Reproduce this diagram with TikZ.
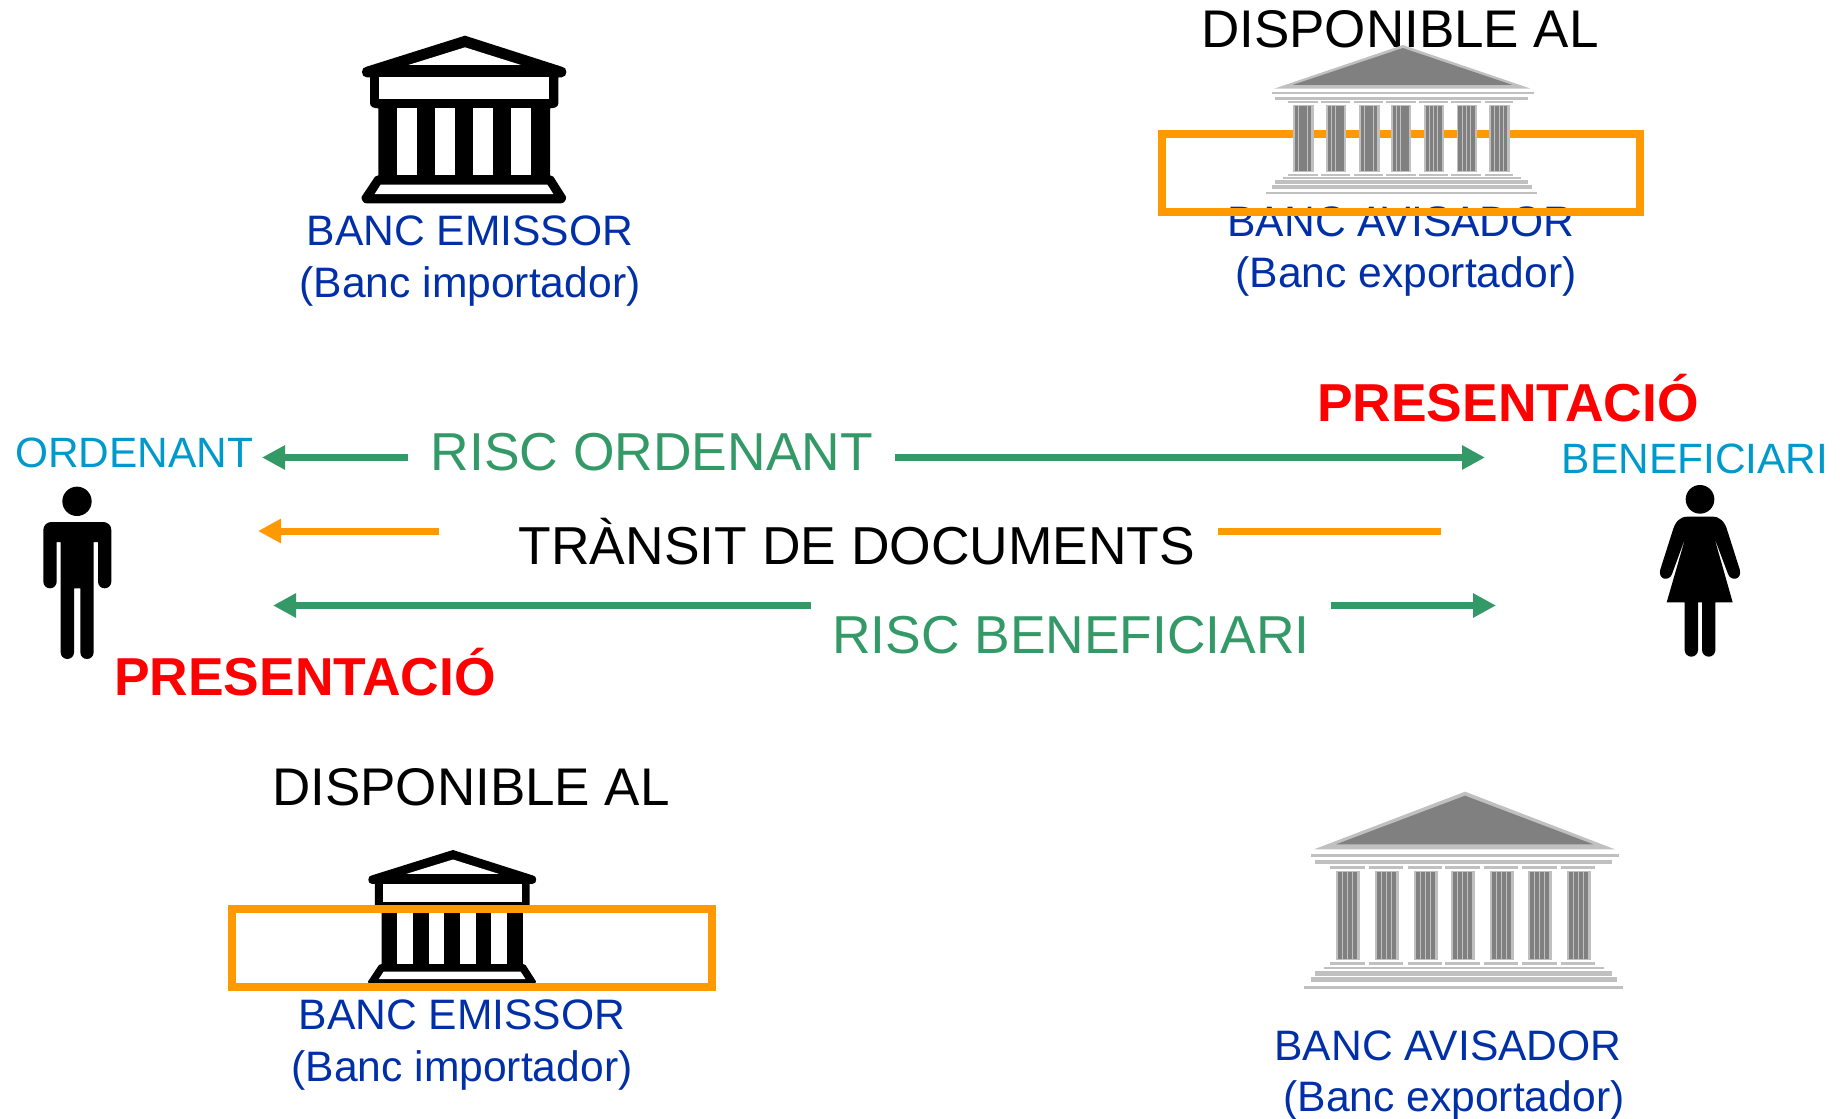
\documentclass[tikz,border=0pt]{standalone}
\usepackage{fontspec}
\setmainfont{Liberation Sans}
\usetikzlibrary{arrows.meta}
\definecolor{rgreen}{HTML}{339966}
\definecolor{rorange}{HTML}{FF9900}
\definecolor{rblue}{HTML}{002FA7}
\definecolor{rcyan}{HTML}{0099CC}
\definecolor{glight}{HTML}{C0C0C0}
\definecolor{gdark}{HTML}{808080}
\tikzset{
  txt/.style={inner sep=0pt,outer sep=0pt,anchor=base},
  banklabel/.style={txt,text=rblue,font=\fontsize{21.3}{24}\selectfont},
  partylabel/.style={txt,text=rcyan,font=\fontsize{21.2}{24}\selectfont},
  bigblack/.style={txt,text=black,font=\fontsize{26.7}{30}\selectfont},
  dispo/.style={txt,text=black,font=\fontsize{26.5}{30}\selectfont},
  biggreen/.style={txt,text=rgreen,font=\fontsize{26.7}{30}\selectfont},
  present/.style={txt,text=red,font=\bfseries\fontsize{26.7}{30}\selectfont},
  frameb/.style={draw=rorange,line width=4pt,miter limit=10},
  garrow/.style={draw=rgreen,line width=3.5pt},
  oarrow/.style={draw=rorange,line width=3.5pt},
  gtip/.style={-{Triangle[length=11.5pt,width=11.5pt]}},
}
\newcommand{\blackbank}{%
  \fill[black] (80,140) -- (375,47) -- (665,140) to[out=0,in=0,looseness=1.5] (665,172) -- (655,172) -- (655,250) to[out=-90,in=0] (630,265) -- (630,466) -- (640,470) -- (678,530) to[out=-80,in=0] (662,550) -- (80,550) to[out=180,in=-100] (65,530) -- (105,470) -- (115,466) -- (115,265) to[out=180,in=-90] (90,250) -- (90,172) -- (80,172) to[out=180,in=180,looseness=1.5] cycle;
  \fill[white] (205,135) -- (375,82) -- (543,135) -- cycle;
  \fill[white] (118,172) rectangle (626,237);
  \foreach \a in {172,286,400,514} {\fill[white] (\a,265) rectangle +(58,201);}
  \fill[white] (122,494) -- (622,494) -- (640,522) -- (104,522) -- cycle;
}
\newcommand{\greybank}{%
  \fill[glight] (72,208) -- (525,35) -- (975,208) -- cycle;
  \fill[gdark] (138,193) -- (525,47) -- (910,193) -- cycle;
  \fill[glight] (63,222) rectangle (987,231);
  \fill[glight] (75,240) rectangle (966,252);
  \foreach \a/\b in {120/225,237/339,354/456,465/570,582/684,696/801,813/915} {
    \fill[glight] (\a,258) rectangle (\b,267);
    \fill[glight] (\a,546) rectangle (\b,555);
  }
  \foreach \c in {174,290,407,519,635,751,866} {
    \fill[glight] (\c-36,272) rectangle (\c+36,541);
    \foreach \d in {-30,-15,0,15} {\fill[gdark] (\c+\d,276) rectangle +(12,260);}
  }
  \fill[glight] (102,561) rectangle (942,568);
  \fill[glight] (75,573) rectangle (966,588);
  \fill[glight] (63,591) rectangle (981,606);
  \fill[glight] (42,618) rectangle (998,627);
}
\begin{document}
\begin{tikzpicture}[x=.5pt,y=-.5pt]
\useasboundingbox (0,0) rectangle (1840,1118);
% labels under frames
\node[banklabel] (e1) at (470,246) {BANC EMISSOR};
\node[banklabel] (e1b) at (470,297) {(Banc importador)};
\node[banklabel] (a1) at (1401,236) {BANC AVISADOR};
\node[banklabel] (a1b) at (1406,287) {(Banc exportador)};
\node[banklabel] (e2) at (462,1029) {BANC EMISSOR};
\node[banklabel] (e2b) at (462,1081) {(Banc importador)};
\node[banklabel] (a2) at (1448,1060) {BANC AVISADOR};
\node[banklabel] (a2b) at (1454,1111) {(Banc exportador)};
\node[dispo] (d1) at (1400,48) {DISPONIBLE AL};
\node[dispo] (d2) at (471,805) {DISPONIBLE AL};
% banks
\begin{scope}[shift={(340,20)},x=.16667pt,y=-.16667pt]\blackbank\end{scope}
\begin{scope}[shift={(350.2,837.2)},x=.137pt,y=-.136pt]\blackbank\end{scope}
% frames
\draw[frameb] (1162,134) rectangle (1640,212);
\draw[frameb] (232,909) rectangle (712,987);
\begin{scope}[shift={(1254,36.2)},x=.14175pt,y=-.12585pt]\greybank\end{scope}
\begin{scope}[shift={(1290,780)},x=.16667pt,y=-.16667pt]\greybank\end{scope}
% parties
\node[partylabel] (ord) at (134,467) {ORDENANT};
\node[partylabel] (ben) at (1695,473) {BENEFICIARI};
\begin{scope}[shift={(0,420)},x=.16667pt,y=-.16667pt]
  \fill[black] (231,244) circle[radius=44];
  \fill[black] (130,330) arc[start angle=180,end angle=270,radius=24] -- (310,306) arc[start angle=270,end angle=360,radius=24] -- (334,485) arc[start angle=0,end angle=180,radius=20] -- (294,366) -- (281,366) -- (281,697) arc[start angle=0,end angle=180,radius=20] -- (241,505) -- (222,505) -- (222,697) arc[start angle=0,end angle=180,radius=20] -- (182,366) -- (170,366) -- (170,485) arc[start angle=0,end angle=180,radius=20] -- cycle;
\end{scope}
\begin{scope}[shift={(1560,420)},x=.16667pt,y=-.16667pt]
  \fill[black] (420,238) circle[radius=43];
  \fill[black] (382,290) -- (458,290) .. controls (480,290) and (495,305) .. (503,335) -- (539,448) .. controls (548,480) and (512,485) .. (504,462) -- (462,350) -- (518,547) -- (466,547) -- (466,690) arc[start angle=0,end angle=180,radius=20] -- (426,547) -- (414,547) -- (414,690) arc[start angle=0,end angle=180,radius=20] -- (374,547) -- (320,547) -- (377,350) -- (336,462) .. controls (328,485) and (292,480) .. (301,448) -- (337,335) .. controls (345,305) and (360,290) .. (382,290) -- cycle;
\end{scope}
% texts in the middle
\node[biggreen] (ro) at (652,470) {RISC ORDENANT};
\node[bigblack] (tr) at (857,564) {TRÀNSIT DE DOCUMENTS};
\node[biggreen] (rb) at (1071,653) {RISC BENEFICIARI};
\node[present] (p1) at (1508,421) {PRESENTACIÓ};
\node[present] (p2) at (305,695) {PRESENTACIÓ};
% arrows
\coordinate (a1s) at (408,457.5); \coordinate (a1t) at (262,457.5);
\coordinate (a2s) at (895,457.5); \coordinate (a2t) at (1485,457.5);
\coordinate (o1s) at (439,531); \coordinate (o1t) at (258,531);
\coordinate (o2s) at (1218,531); \coordinate (o2t) at (1441,531);
\coordinate (g1s) at (811,605.5); \coordinate (g1t) at (273,605.5);
\coordinate (g2s) at (1331,605.5); \coordinate (g2t) at (1496,605.5);
\draw[garrow,gtip] (a1s) -- (a1t);
\draw[garrow,gtip] (a2s) -- (a2t);
\draw[oarrow,gtip] (o1s) -- (o1t);
\draw[oarrow] (o2s) -- (o2t);
\draw[garrow,gtip] (g1s) -- (g1t);
\draw[garrow,gtip] (g2s) -- (g2t);
\end{tikzpicture}
\end{document}
